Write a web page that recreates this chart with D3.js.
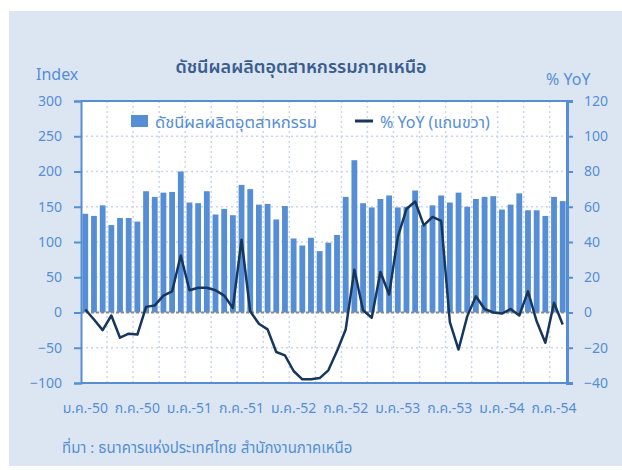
<!DOCTYPE html>
<html>
<head>
<meta charset="utf-8">
<script src="https://cdn.jsdelivr.net/npm/d3@7"></script>
<style>
	body{margin:0;background:#fff;}
	text{font-family:Tahoma,"Noto Sans Thai","Noto Sans","DejaVu Sans",sans-serif;}
</style>
</head>
<body>
<svg id="d_svg" width="622" height="470"></svg>
<script>
/*ดัชนีผลผลิตอุตสาหกรรมภาคเหนือ*/
var monthNames = ['ม.ค.','ก.พ.','มี.ค.','เม.ย.','พ.ค.','มิ.ย.','ก.ค.','ส.ค.','ก.ย.','ต.ค.','พ.ย.','ธ.ค.'];
var years = ['50','51','52','53','54'];
var months = [];
for(var yi = 0; yi < years.length; yi++){
	for(var mi = 0; mi < 12; mi++){
		if(months.length < 56) months.push(monthNames[mi] + '-' + years[yi]);
	}
}
var indexValues = [
	140,137,152,124,134,134,129,172,164,170,171,200,
	156,155,172,139,147,138,181,175,153,154,132,151,
	105,95,106,87,99,110,164,216,155,149,161,166,
	149,150,173,124,152,166,156,170,150,161,164,165,
	146,153,169,145,145,137,164,158
];
var yoyValues = [
	1.7,-4,-10,-1.7,-14.3,-12,-12.5,3.2,4,9.6,12,32.3,
	12.6,14,14,12.6,9.6,2.6,41.3,0.7,-6.4,-9.6,-22.4,-24.3,
	-33.2,-37.9,-37.9,-37.2,-32.8,-21.9,-9.6,24.3,1.3,-3,23,10.2,
	42.8,58.7,63,49.4,54.2,52,-5.5,-21,-2.2,9.2,2,0,
	-0.6,2,-1.7,12,-5,-17.2,5.5,-6.8
];
var leftTicks = [-100,-50,0,50,100,150,200,250,300];
var rightTicks = [-40,-20,0,20,40,60,80,100,120];
var xLabelIdx = [0,6,12,18,24,30,36,42,48,54];

var blue = '#558ed5';
var navy = '#17365d';
var pLeft = 81, pRight = 567, pTop = 101, pBottom = 383;

var svg = d3.select('#d_svg');
// พื้นหลัง
svg.append('rect')
	.attr('x',9).attr('y',11).attr('width',613).attr('height',455)
	.attr('fill','#dce6f2');
svg.append('rect')
	.attr('x',pLeft).attr('y',pTop).attr('width',pRight - pLeft).attr('height',pBottom - pTop)
	.attr('fill','#ffffff');

var x = d3.scaleBand()
		.domain(d3.range(months.length))
		.range([pLeft, pRight])
		.paddingInner(0.33)
		.paddingOuter(0.16);
var yL = d3.scaleLinear().domain([-100,300]).range([pBottom, pTop]);
var yR = d3.scaleLinear().domain([-40,120]).range([pBottom, pTop]);

// เส้นกริด
var gridG = svg.append('g').attr('class','grid');
gridG.selectAll('.hgrid')
	.data(leftTicks.filter(function(d){ return d != 0 && d != 300 && d != -100; }))
	.enter()
	.append('line')
	.attr('x1',pLeft).attr('x2',pRight)
	.attr('y1',function(d){ return yL(d); })
	.attr('y2',function(d){ return yL(d); })
	.attr('stroke','#c9d6ea')
	.attr('stroke-width',1.5)
	.attr('stroke-dasharray','2,3');
gridG.selectAll('.vgrid')
	.data(d3.range(3, months.length, 3))
	.enter()
	.append('line')
	.attr('x1',function(d){ return pLeft + d * x.step(); })
	.attr('x2',function(d){ return pLeft + d * x.step(); })
	.attr('y1',pTop).attr('y2',pBottom)
	.attr('stroke','#c9d6ea')
	.attr('stroke-width',1.5)
	.attr('stroke-dasharray','2,3');

// แท่ง
svg.append('g')
	.selectAll('rect')
	.data(indexValues)
	.enter()
	.append('rect')
	.attr('x',function(d,i){ return x(i); })
	.attr('y',function(d){ return yL(Math.max(d,0)); })
	.attr('width',x.bandwidth())
	.attr('height',function(d){ return Math.abs(yL(d) - yL(0)); })
	.attr('fill',blue);

// เส้นศูนย์
svg.append('line')
	.attr('x1',pLeft).attr('x2',pRight)
	.attr('y1',yL(0)).attr('y2',yL(0))
	.attr('stroke','#8a8a8a')
	.attr('stroke-width',2)
	.attr('stroke-dasharray','3,2');

// แกน
var axisL = svg.append('g')
	.attr('transform','translate(' + pLeft + ',0)')
	.call(d3.axisLeft(yL).tickValues(leftTicks).tickSize(7).tickPadding(12));
var axisR = svg.append('g')
	.attr('transform','translate(' + pRight + ',0)')
	.call(d3.axisRight(yR).tickValues(rightTicks).tickSize(6).tickPadding(11));
axisL.select('.domain').attr('stroke',blue).attr('stroke-width',2);
axisR.select('.domain').attr('stroke',blue).attr('stroke-width',3);
svg.selectAll('.tick line').attr('stroke',blue).attr('stroke-width',2);
svg.selectAll('.tick text').attr('fill',blue).attr('font-size','14px');
svg.selectAll('.tick text').style('font-family','"Noto Sans",sans-serif');
svg.append('line')
	.attr('x1',pLeft).attr('x2',pRight).attr('y1',pTop).attr('y2',pTop)
	.attr('stroke',blue).attr('stroke-width',2);
svg.append('line')
	.attr('x1',pLeft).attr('x2',pRight).attr('y1',pBottom).attr('y2',pBottom)
	.attr('stroke',blue).attr('stroke-width',2);

// เส้น YoY
var line = d3.line()
	.x(function(d,i){ return x(i) + x.bandwidth() / 2; })
	.y(function(d){ return yR(d); });
svg.append('path')
	.datum(yoyValues)
	.attr('d',line)
	.attr('fill','none')
	.attr('stroke',navy)
	.attr('stroke-width',2.5)
	.attr('stroke-linejoin','round');

// ป้ายแกน x
svg.append('g')
	.selectAll('text')
	.data(xLabelIdx)
	.enter()
	.append('text')
	.attr('x',function(d){ return x(d) + x.bandwidth() / 2; })
	.attr('y',413)
	.attr('text-anchor','middle')
	.attr('font-size','14px')
	.attr('fill',blue)
	.text(function(d){ return months[d]; });

// ชื่อกราฟ
svg.append('text')
	.attr('x',301).attr('y',73)
	.attr('text-anchor','middle')
	.attr('font-size','18px')
	.attr('font-weight','600')
	.attr('fill','#3a5d8f')
	.text('ดัชนีผลผลิตอุตสาหกรรมภาคเหนือ');
svg.append('text')
	.attr('x',36).attr('y',80)
	.attr('font-size','16px')
	.attr('fill',blue)
	.style('font-family','"Noto Sans",sans-serif')
	.text('Index');
svg.append('text')
	.attr('x',546).attr('y',85)
	.attr('font-size','16px')
	.attr('fill',blue)
	.style('font-family','"Noto Sans",sans-serif')
	.text('% YoY');

// คำอธิบาย
svg.append('rect')
	.attr('x',131).attr('y',115).attr('width',17).attr('height',12)
	.attr('fill',blue);
svg.append('text')
	.attr('x',155).attr('y',128)
	.attr('font-size','16.5px')
	.attr('fill',blue)
	.text('ดัชนีผลผลิตอุตสาหกรรม');
svg.append('line')
	.attr('x1',355).attr('x2',373).attr('y1',121).attr('y2',121)
	.attr('stroke',navy).attr('stroke-width',3);
svg.append('text')
	.attr('x',380).attr('y',128)
	.attr('font-size','16px')
	.attr('fill',blue)
	.text('% YoY (แกนขวา)');

// ที่มา
svg.append('text')
	.attr('x',62).attr('y',453)
	.attr('font-size','15px')
	.attr('fill',blue)
	.text('ที่มา : ธนาคารแห่งประเทศไทย สำนักงานภาคเหนือ');
</script>
</body>
</html>
